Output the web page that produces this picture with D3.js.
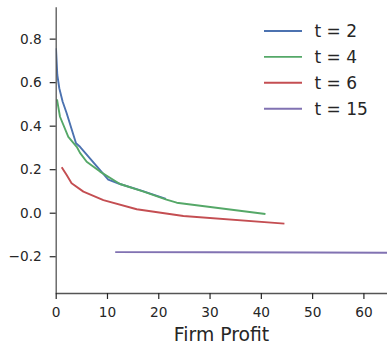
<!DOCTYPE html>
<html><head><meta charset="utf-8">
<script src="https://cdn.jsdelivr.net/npm/d3@7"></script>
<style>body{margin:0;background:#fff}svg{display:block}text{font-family:"DejaVu Sans",sans-serif;fill:#262626}</style>
</head><body><svg id="c" width="387" height="343"></svg>
<script>
const seriesNames = ["t = 2", "t = 4", "t = 6", "t = 15"];
const colors = ["#4C72B0", "#55A868", "#C44E52", "#8172B2"];
const t2x = [0.06, 0.31, 0.7, 1.36, 2.14, 3.96, 4.74, 10.25, 12.53, 17, 21.5];
const t2y = [0.756, 0.634, 0.572, 0.51, 0.457, 0.319, 0.303, 0.152, 0.132, 0.099, 0.064];
const t4x = [0.25, 0.84, 2.46, 4.1, 4.74, 6.04, 8.64, 12.53, 17, 21.6, 23.6, 40.9];
const t4y = [0.521, 0.441, 0.349, 0.303, 0.275, 0.234, 0.189, 0.132, 0.098, 0.06, 0.046, -0.006];
const t6x = [1.17, 2.14, 3.1, 5.4, 9.3, 15.8, 24.9, 44.6];
const t6y = [0.209, 0.173, 0.135, 0.097, 0.058, 0.016, -0.015, -0.05];
const t15x = [11.6, 30, 50, 65];
const t15y = [-0.181, -0.182, -0.183, -0.184];
const xTicks = [0, 10, 20, 30, 40, 50, 60];
const yTicks = [0.8, 0.6, 0.4, 0.2, 0.0, -0.2];
const xLabel = "Firm Profit";

const svg = d3.select("#c");
const x = d3.scaleLinear().domain([0, 64.6]).range([55.7, 387]);
const y = d3.scaleLinear().domain([-0.369, 0.944]).range([293, 7.3]);

svg.append("defs").append("clipPath").attr("id","clip").append("rect")
  .attr("x",55.7).attr("y",7.3).attr("width",387-55.7).attr("height",293-7.3);

const xs = [t2x, t4x, t6x, t15x], ys = [t2y, t4y, t6y, t15y];
const line = d3.line().x(d=>x(d[0])).y(d=>y(d[1]));
const g = svg.append("g").attr("clip-path","url(#clip)");
xs.forEach((xa,i)=>{
  g.append("path").datum(xa.map((v,j)=>[v, ys[i][j]]))
   .attr("d",line).attr("fill","none").attr("stroke",colors[i])
   .attr("stroke-width",1.9).attr("stroke-linejoin","round").attr("stroke-linecap","butt");
});

const fmt = v => (v < 0 ? "\u2212" : "") + Math.abs(v).toFixed(1);
const xa = svg.append("g").attr("transform","translate(0,293)")
  .call(d3.axisBottom(x).tickValues(xTicks).tickSize(6).tickPadding(8).tickFormat(d3.format("d")));
const ya = svg.append("g").attr("transform","translate(55.7,0)")
  .call(d3.axisLeft(y).tickValues(yTicks).tickSize(6).tickPadding(8).tickFormat(fmt));
[xa, ya].forEach(a=>{
  a.select(".domain").attr("stroke","#555").attr("stroke-width",1.3);
  a.selectAll(".tick line").attr("stroke","#262626").attr("stroke-width",1.2);
  a.selectAll(".tick text").attr("font-size","13.7px").attr("font-family","DejaVu Sans").attr("fill","#262626");
});
ya.select(".domain").attr("d","M0.5,293V7.3");
xa.select(".domain").attr("d","M55.7,0.5H387");

svg.append("text").attr("x",221.5).attr("y",340.5).attr("text-anchor","middle")
  .attr("font-size","18.8px").text(xLabel);

const leg = svg.append("g");
seriesNames.forEach((n,i)=>{
  const yy = 31 + i*25.9;
  leg.append("line").attr("x1",264).attr("x2",302).attr("y1",yy).attr("y2",yy)
    .attr("stroke",colors[i]).attr("stroke-width",1.9);
  leg.append("text").attr("x",314.5).attr("y",yy+6.2).attr("font-size","17px").text(n);
});
</script></body></html>
